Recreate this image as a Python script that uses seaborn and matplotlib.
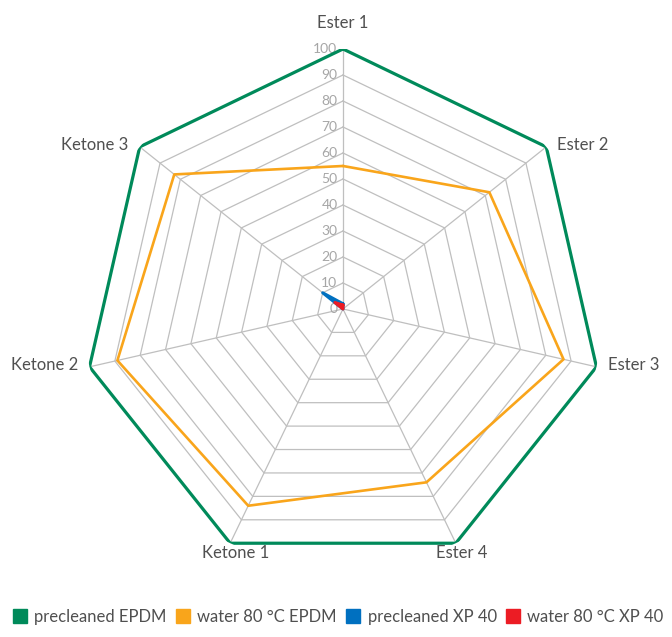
import numpy as np
import pandas as pd
import seaborn as sns
import matplotlib.pyplot as plt
from matplotlib.lines import Line2D
from matplotlib.transforms import offset_copy

categories = ["Ester 1", "Ester 2", "Ester 3", "Ester 4", "Ketone 1", "Ketone 2", "Ketone 3"]
precleaned_epdm = [100, 100, 100, 100, 100, 100, 100]
water_epdm = [55, 72, 87, 74, 84, 89, 83]
precleaned_xp40 = [2, 0, 0, 0, 0, 0, 10]
water_xp40 = [1.5, 0, 0, 0, 0, 0, 4]
series_names = ["precleaned EPDM", "water 80 °C EPDM", "precleaned XP 40", "water 80 °C XP 40"]
colors = ["#008a5a", "#f9a51b", "#0070c0", "#ec1c24"]
ticks = [0, 10, 20, 30, 40, 50, 60, 70, 80, 90, 100]

sns.set_theme(style="white")
plt.rcParams["font.family"] = ["Lato", "DejaVu Sans"]

n = len(categories)
theta = np.linspace(0, 2 * np.pi, n, endpoint=False)
theta_closed = np.append(theta, theta[0])

rows = []
for name, vals in zip(series_names, [precleaned_epdm, water_epdm, precleaned_xp40, water_xp40]):
    vals_closed = list(vals) + [vals[0]]
    for i, (t, v) in enumerate(zip(theta_closed, vals_closed)):
        rows.append({"series": name, "theta": t, "value": v, "order": i})
df = pd.DataFrame(rows)

fig = plt.figure(figsize=(6.72, 6.37), dpi=100)
ax = fig.add_axes([0.1235, 0.1068, 0.7738, 0.8163], projection="polar")
ax.set_theta_zero_location("N")
ax.set_theta_direction(-1)
ax.set_ylim(0, 100)
ax.grid(False)
ax.spines["polar"].set_visible(False)
ax.set_xticks([])
ax.set_yticks([])
ax.patch.set_alpha(0)

# heptagon grid + spokes
for r in ticks[1:-1]:
    ax.plot(theta_closed, [r] * (n + 1), color="#bfbfbf", lw=0.9, zorder=1)
for t in theta:
    ax.plot([t, t], [0, 100], color="#bfbfbf", lw=0.9, zorder=1)

sns.lineplot(data=df, x="theta", y="value", hue="series", hue_order=series_names,
             palette=colors, sort=False, estimator=None, units="series",
             linewidth=1.9, ax=ax, legend=False, zorder=3)
for line, lw in zip(ax.lines[-4:], [2.3, 1.9, 2.2, 2.2]):
    line.set_linewidth(lw)

ax.set_xlabel("")
ax.set_ylabel("")

# radial tick labels along the first axis
tick_tr = offset_copy(ax.transData, fig=fig, x=-4, y=0, units="points")
for r in ticks:
    ax.text(0, r, str(r), ha="right", va="center", fontsize=10,
            color="#a6a6a6", transform=tick_tr, zorder=2)

# category labels
for t, lab in zip(theta, categories):
    s, c = np.sin(t), np.cos(t)
    if abs(s) < 0.1:
        ha, va, dx, dy = "center", "bottom", 0, 13
    elif c < -0.5:
        ha, va, dx, dy = "center", "top", 4, -1
    else:
        ha = "left" if s > 0 else "right"
        va, dx, dy = "center", 8 if s > 0 else -8, 1
    tr = offset_copy(ax.transData, fig=fig, x=dx, y=dy, units="points")
    ax.text(t, 100, lab, ha=ha, va=va, fontsize=12, color="#505050", transform=tr)

handles = [Line2D([], [], marker="s", linestyle="none", markersize=10,
                  markerfacecolor=c, markeredgecolor=c) for c in colors]
fig.legend(handles, series_names, loc="lower center", bbox_to_anchor=(0.503, -0.005),
           ncol=4, frameon=False, fontsize=12, handletextpad=0.4,
           columnspacing=0.55, handlelength=0.9, labelcolor="#505050")

fig.savefig("out.png", dpi=100)
